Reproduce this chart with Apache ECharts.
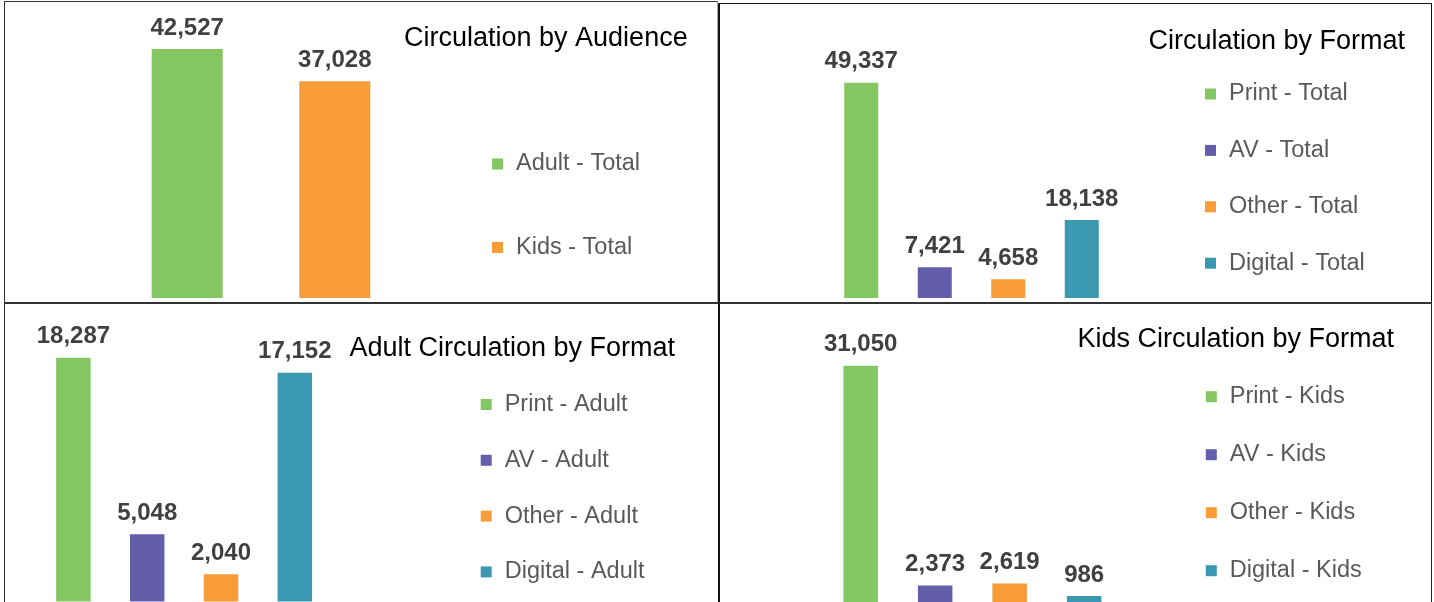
<!DOCTYPE html>
<html>
<head>
<meta charset="utf-8">
<script src="https://cdn.jsdelivr.net/npm/echarts@6/dist/echarts.min.js"></script>
<style>
  html, body { margin: 0; padding: 0; background: #fff; }
  body { width: 1434px; height: 602px; position: relative; overflow: hidden; }
  .box { position: absolute; box-sizing: border-box; pointer-events: none; }
  .clip { position: absolute; overflow: hidden; }
  .chart { position: absolute; left: 0; top: 0; }
</style>
</head>
<body>
<div class="clip" id="wrapTL" style="left:6px;top:3px;width:711px;height:295px"><div class="chart" id="tl" style="width:711px;height:320px"></div></div>
<div class="clip" id="wrapTR" style="left:720px;top:5px;width:711px;height:293px"><div class="chart" id="tr" style="width:711px;height:320px"></div></div>
<div class="clip" id="wrapBL" style="left:6px;top:304px;width:711px;height:298px"><div class="chart" id="bl" style="width:711px;height:320px"></div></div>
<div class="clip" id="wrapBR" style="left:720px;top:304px;width:711px;height:298px"><div class="chart" id="br" style="width:711px;height:320px"></div></div>

<div class="box" style="left:4px;top:1px;width:714px;height:303px;border:1px solid #333;border-right-color:#aaa;border-bottom:2px solid #333"></div>
<div class="box" style="left:718px;top:3px;width:714px;height:301px;border:1px solid #111;border-left-width:2px;border-bottom:2px solid #333"></div>
<div class="box" style="left:4px;top:302px;width:714px;height:320px;border-left:1px solid #333;border-top:2px solid #333"></div>
<div class="box" style="left:718px;top:302px;width:714px;height:320px;border-left:2px solid #111;border-right:1px solid #222;border-top:2px solid #333"></div>

<script>
// values
const audienceNames = ["Adult - Total", "Kids - Total"];
const audienceValues = [42527, 37028];

const formatNames = ["Print - Total", "AV - Total", "Other - Total", "Digital - Total"];
const formatValues = [49337, 7421, 4658, 18138];

const adultNames = ["Print - Adult", "AV - Adult", "Other - Adult", "Digital - Adult"];
const adultValues = [18287, 5048, 2040, 17152];

const kidsNames = ["Print - Kids", "AV - Kids", "Other - Kids", "Digital - Kids"];
const kidsValues = [31050, 2373, 2619, 986];

const green = "#84C662";
const purple = "#645EAA";
const orange = "#F79C39";
const teal = "#3A99B0";

const FONT = "'Liberation Sans', Arial, sans-serif";

function makeChart(id, cfg) {
	const chart = echarts.init(document.getElementById(id), null, { renderer: "canvas" });
	const series = cfg.names.map((name, i) => {
		return {
			name: name,
			type: "bar",
			stack: "one",
			barWidth: cfg.barWidth,
			data: cfg.values.map((v, j) => (j === i ? v : "-")),
			itemStyle: { color: cfg.colors[i] },
			label: {
				show: true,
				position: "top",
				distance: 9,
				color: "#404040",
				fontFamily: FONT,
				fontWeight: "bold",
				fontSize: 24,
				formatter: p => Number(p.value).toLocaleString("en-US")
			}
		};
	});
	const option = {
		animation: false,
		title: {
			text: cfg.title,
			left: cfg.titleLeft,
			top: cfg.titleTop,
			padding: 0,
			textStyle: {
				color: "#000",
				fontFamily: FONT,
				fontWeight: "normal",
				fontSize: 27
			}
		},
		legend: {
			orient: "vertical",
			left: cfg.legendLeft,
			top: cfg.legendTop + 1.5,
			padding: 0,
			itemGap: cfg.legendGap - 0.5,
			itemWidth: 11,
			itemHeight: 11,
			icon: "rect",
			data: cfg.names,
			textStyle: {
				color: "#595959",
				fontFamily: FONT,
				fontSize: 23.5,
				lineHeight: 23.5,
				padding: [0, 0, 0, 8]
			}
		},
		grid: {
			left: cfg.gridLeft,
			width: cfg.gridWidth,
			top: cfg.gridTop,
			bottom: cfg.gridBottom
		},
		xAxis: {
			type: "category",
			data: cfg.names,
			show: false
		},
		yAxis: {
			type: "value",
			min: 0,
			max: cfg.max,
			show: false,
			splitLine: { show: false }
		},
		series: series
	};
	chart.setOption(option);
	return chart;
}

makeChart("tl", {
	title: "Circulation by Audience",
	names: audienceNames,
	values: audienceValues,
	colors: [green, orange],
	barWidth: 71,
	gridLeft: 107.4,
	gridWidth: 295.2,
	gridTop: 2.1,
	gridBottom: 24.1,
	max: 50000,
	titleLeft: 398,
	titleTop: 22,
	legendLeft: 486,
	legendTop: 147.5,
	legendGap: 60
});

makeChart("tr", {
	title: "Circulation by Format",
	names: formatNames,
	values: formatValues,
	colors: [green, purple, orange, teal],
	barWidth: 34,
	gridLeft: 104.5,
	gridWidth: 294,
	gridTop: 30.7,
	gridBottom: 25.2,
	max: 60000,
	titleLeft: 428.5,
	titleTop: 23,
	legendLeft: 485,
	legendTop: 75.5,
	legendGap: 32.9
});

makeChart("bl", {
	title: "Adult Circulation by Format",
	names: adultNames,
	values: adultValues,
	colors: [green, purple, orange, teal],
	barWidth: 34.5,
	gridLeft: 30.5,
	gridWidth: 295.2,
	gridTop: 30.8,
	gridBottom: 22.5,
	max: 20000,
	titleLeft: 343.5,
	titleTop: 30.7,
	legendLeft: 474.7,
	legendTop: 87,
	legendGap: 32.3
});

makeChart("br", {
	title: "Kids Circulation by Format",
	names: kidsNames,
	values: kidsValues,
	colors: [green, purple, orange, teal],
	barWidth: 34.5,
	gridLeft: 103.4,
	gridWidth: 298,
	gridTop: 31.4,
	gridBottom: 20.4,
	max: 35000,
	titleLeft: 357.4,
	titleTop: 22,
	legendLeft: 485.8,
	legendTop: 79.2,
	legendGap: 34.5
});
</script>
</body>
</html>
